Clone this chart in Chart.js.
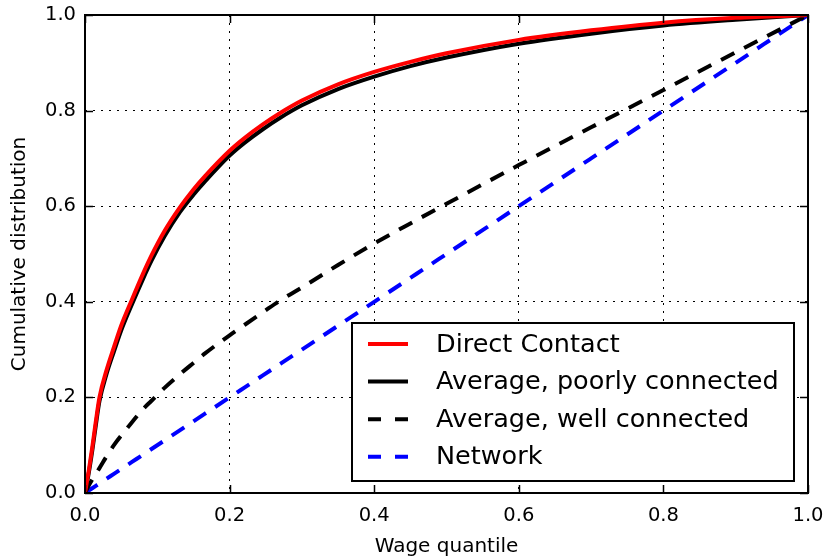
<!DOCTYPE html>
<html>
<head>
<meta charset="utf-8">
<script src="https://cdn.jsdelivr.net/npm/chart.js@4.4.1/dist/chart.umd.min.js"></script>
<style>
  html, body { margin: 0; padding: 0; background: #fff; }
  #wrap { width: 825px; height: 560px; }
</style>
</head>
<body>
<div id="wrap"><canvas id="c" width="825" height="560"></canvas></div>
<script>
// ---- data ----
const wageQuantile    = [0, 0.005, 0.01, 0.015, 0.02, 0.03, 0.04, 0.05, 0.065, 0.08, 0.092, 0.11, 0.131, 0.15, 0.166, 0.2, 0.221, 0.246, 0.27, 0.3, 0.35, 0.4, 0.45, 0.5, 0.6, 0.7, 0.8, 0.9, 1.0];
const directContact   = [0, 0.045, 0.095, 0.15, 0.2, 0.258, 0.305, 0.35, 0.405, 0.458, 0.497, 0.548, 0.597, 0.635, 0.663, 0.716, 0.743, 0.771, 0.795, 0.821, 0.855, 0.881, 0.902, 0.92, 0.948, 0.968, 0.984, 0.994, 1.0];
const poorlyConnected = [0, 0.04, 0.088, 0.142, 0.192, 0.25, 0.296, 0.34, 0.395, 0.447, 0.486, 0.537, 0.587, 0.624, 0.652, 0.706, 0.733, 0.761, 0.785, 0.811, 0.845, 0.871, 0.893, 0.911, 0.94, 0.961, 0.978, 0.99, 1.0];
const wellConnected   = [0, 0.015, 0.028, 0.04, 0.052, 0.077, 0.10, 0.12, 0.148, 0.175, 0.193, 0.22, 0.248, 0.272, 0.292, 0.33, 0.352, 0.378, 0.403, 0.43, 0.477, 0.522, 0.564, 0.605, 0.686, 0.765, 0.843, 0.922, 1.0];
const network         = [0, 0.005, 0.01, 0.015, 0.02, 0.03, 0.04, 0.05, 0.065, 0.08, 0.092, 0.11, 0.131, 0.15, 0.166, 0.2, 0.221, 0.246, 0.27, 0.3, 0.35, 0.4, 0.45, 0.5, 0.6, 0.7, 0.8, 0.9, 1.0];
const seriesNames = ["Direct Contact", "Average, poorly connected", "Average, well connected", "Network"];
const axisTicks = [0, 0.2, 0.4, 0.6, 0.8, 1.0];
const xTitle = "Wage quantile";
const yTitle = "Cumulative distribution";

const FONT = "'DejaVu Sans', sans-serif";
const pts = ys => wageQuantile.map((x, i) => ({ x: x, y: ys[i] }));

const styles = [
  { color: '#ff0000', dash: [] },
  { color: '#000000', dash: [] },
  { color: '#000000', dash: [15, 11] },
  { color: '#0000ff', dash: [15, 11] }
];
const allSeries = [directContact, poorlyConnected, wellConnected, network];

const datasets = allSeries.map((s, i) => ({
  label: seriesNames[i],
  data: pts(s),
  borderColor: styles[i].color,
  backgroundColor: styles[i].color,
  borderWidth: 4,
  borderDash: styles[i].dash,
  borderCapStyle: 'butt',
  pointRadius: 0,
  cubicInterpolationMode: 'monotone',
  fill: false
}));

const framePlugin = {
  id: 'frame',
  afterDraw(chart) {
    const ctx = chart.ctx;
    const a = chart.chartArea;
    const xs = chart.scales.x, ys = chart.scales.y;
    ctx.save();
    ctx.setLineDash([]);
    ctx.strokeStyle = '#000';
    // inward ticks on all four sides
    ctx.lineWidth = 1.5;
    const L = 8;
    axisTicks.forEach(v => {
      const px = Math.round(xs.getPixelForValue(v)) + 0.5;
      const py = Math.round(ys.getPixelForValue(v)) + 0.5;
      ctx.beginPath();
      ctx.moveTo(px, a.bottom); ctx.lineTo(px, a.bottom - L);
      ctx.moveTo(px, a.top); ctx.lineTo(px, a.top + L);
      ctx.moveTo(a.left, py); ctx.lineTo(a.left + L, py);
      ctx.moveTo(a.right, py); ctx.lineTo(a.right - L, py);
      ctx.stroke();
    });
    // frame
    ctx.lineWidth = 2;
    ctx.strokeRect(a.left, a.top, a.right - a.left, a.bottom - a.top);

    // legend (lower right, inside axes)
    const bx = 352, by = 323, bw = 442, bh = 158;
    ctx.fillStyle = '#fff';
    ctx.fillRect(bx, by, bw, bh);
    ctx.lineWidth = 2;
    ctx.strokeRect(bx, by, bw, bh);
    ctx.font = '25.5px ' + FONT;
    ctx.textBaseline = 'middle';
    ctx.textAlign = 'left';
    chart.data.datasets.forEach((d, i) => {
      const cy = 344 + i * 37.6;
      ctx.strokeStyle = d.borderColor;
      ctx.lineWidth = 4;
      ctx.setLineDash(d.borderDash && d.borderDash.length ? [13, 14] : []);
      ctx.lineCap = 'butt';
      ctx.beginPath();
      ctx.moveTo(368, cy); ctx.lineTo(408, cy);
      ctx.stroke();
      ctx.setLineDash([]);
      ctx.fillStyle = '#000';
      ctx.fillText(d.label, 436, cy + 1);
    });
    ctx.restore();
  }
};

new Chart(document.getElementById('c'), {
  type: 'line',
  data: { datasets: datasets },
  options: {
    responsive: false,
    animation: false,
    devicePixelRatio: 1,
    layout: { padding: { top: 15, right: 17, left: 0, bottom: 0 } },
    plugins: { legend: { display: false }, tooltip: { enabled: false } },
    scales: {
      x: {
        type: 'linear', min: 0, max: 1,
        afterFit(s) { s.height = 67; s.paddingLeft = 0; s.paddingRight = 0; },
        afterBuildTicks(s) { s.ticks = axisTicks.map(v => ({ value: v })); },
        ticks: { padding: 11, color: '#000', font: { family: FONT, size: 19.5 }, callback: v => v.toFixed(1), maxRotation: 0 },
        grid: { color: '#000', lineWidth: 1, drawTicks: false },
        border: { display: false, dash: [2, 6] },
        title: { display: true, text: xTitle, color: '#000', font: { family: FONT, size: 20 }, padding: { top: 0, bottom: 1 } }
      },
      y: {
        type: 'linear', min: 0, max: 1,
        afterFit(s) { s.width = 85; s.paddingTop = 0; s.paddingBottom = 0; },
        afterBuildTicks(s) { s.ticks = axisTicks.map(v => ({ value: v })); },
        ticks: { padding: 9, color: '#000', font: { family: FONT, size: 19.5 }, callback: v => v.toFixed(1) },
        grid: { color: '#000', lineWidth: 1, drawTicks: false },
        border: { display: false, dash: [2, 6] },
        title: { display: true, text: yTitle, color: '#000', font: { family: FONT, size: 20 }, padding: { top: 8, bottom: 0 } }
      }
    }
  },
  plugins: [framePlugin]
});
</script>
</body>
</html>
